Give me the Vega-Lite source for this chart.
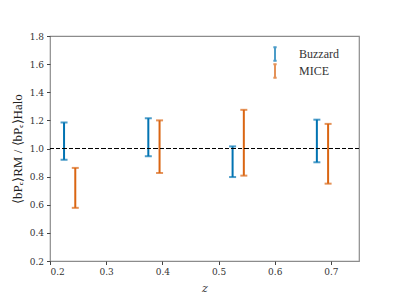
{
  "$schema": "https://vega.github.io/schema/vega-lite/v6.json",
  "width": 309,
  "height": 225,
  "autosize": "none",
  "padding": {"left": 50, "top": 36, "right": 40, "bottom": 38},
  "background": "white",
  "config": {
    "view": {"stroke": "#8c8c8c", "strokeWidth": 1.2},
    "font": "DejaVu Serif",
    "axis": {"labelFont": "DejaVu Serif", "titleFont": "DejaVu Serif", "labelOverlap": false}
  },
  "data": {
    "values": [
      {"z": 0.225, "lo": 0.92, "hi": 1.185, "series": "Buzzard"},
      {"z": 0.245, "lo": 0.578, "hi": 0.862, "series": "MICE"},
      {"z": 0.375, "lo": 0.945, "hi": 1.215, "series": "Buzzard"},
      {"z": 0.395, "lo": 0.826, "hi": 1.2, "series": "MICE"},
      {"z": 0.525, "lo": 0.797, "hi": 1.015, "series": "Buzzard"},
      {"z": 0.545, "lo": 0.807, "hi": 1.275, "series": "MICE"},
      {"z": 0.675, "lo": 0.902, "hi": 1.205, "series": "Buzzard"},
      {"z": 0.695, "lo": 0.75, "hi": 1.175, "series": "MICE"}
    ]
  },
  "encoding": {
    "x": {
      "field": "z", "type": "quantitative",
      "scale": {"domain": [0.2, 0.75], "nice": false, "zero": false},
      "axis": {
        "values": [0.2, 0.3, 0.4, 0.5, 0.6, 0.7], "format": ".1f", "grid": false,
        "domain": false, "tickSize": 3.5, "tickColor": "#444", "labelColor": "#333",
        "labelFontSize": 9, "labelPadding": 3,
        "title": "z", "titleFontStyle": "italic",
        "titleFontWeight": "normal", "titleFontSize": 11, "titleColor": "#333", "titlePadding": 6
      }
    },
    "y": {
      "field": "lo", "type": "quantitative",
      "scale": {"domain": [0.2, 1.8], "nice": false, "zero": false},
      "axis": {
        "values": [0.2, 0.4, 0.6, 0.8, 1.0, 1.2, 1.4, 1.6, 1.8], "format": ".1f", "grid": false,
        "domain": false, "tickSize": 3.5, "tickColor": "#444", "labelColor": "#333",
        "labelFontSize": 9, "labelPadding": 3,
        "title": "⟨bPₑ⟩RM / ⟨bPₑ⟩Halo", "titleFont": "Liberation Serif",
        "titleFontWeight": "normal", "titleFontSize": 13, "titleColor": "#222", "titlePadding": 5
      }
    },
    "color": {
      "field": "series", "type": "nominal",
      "scale": {"domain": ["Buzzard", "MICE"], "range": ["#0173B2", "#DA6512"]},
      "legend": {
        "title": null, "orient": "none", "legendX": 219, "legendY": 12,
        "symbolType": "M-0.33,-1.35H0.33M0,-1.35V1.35M-0.33,1.35H0.33",
        "symbolSize": 100, "symbolStrokeWidth": 2, "symbolFillColor": "transparent",
        "labelFont": "Liberation Serif", "labelFontSize": 12, "labelColor": "#333",
        "labelOffset": 18, "rowPadding": -7
      }
    }
  },
  "layer": [
    {
      "mark": {"type": "rule", "strokeWidth": 2},
      "encoding": {"y2": {"field": "hi"}}
    },
    {
      "mark": {"type": "tick", "orient": "horizontal", "size": 7, "thickness": 2}
    },
    {
      "mark": {"type": "tick", "orient": "horizontal", "size": 7, "thickness": 2},
      "encoding": {"y": {"field": "hi", "type": "quantitative"}}
    },
    {
      "mark": {"type": "rule", "color": "black", "strokeDash": [4, 2.5], "strokeWidth": 1},
      "encoding": {"y": {"datum": 1.0, "type": "quantitative"}, "x": null, "color": null}
    }
  ]
}
